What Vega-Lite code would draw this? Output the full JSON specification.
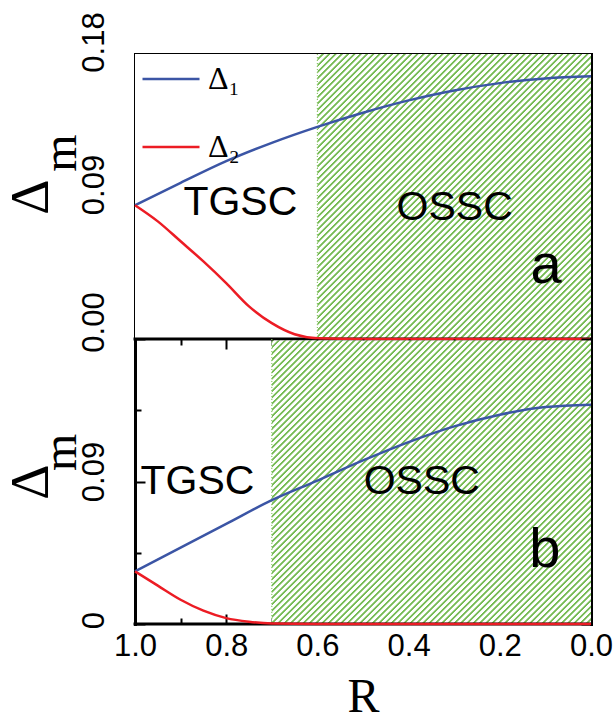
{
"$schema":"https://vega.github.io/schema/vega-lite/v6.json",
"background":"white",
"padding":{"left":3,"top":11,"right":0,"bottom":0},
"config":{
 "view":{"stroke":null},
 "axis":{"domainColor":"black","domainWidth":3,"domainCap":"square","tickColor":"black","tickWidth":2,"labelFont":"Liberation Sans","labelFontSize":31,"labelColor":"black","grid":false,"zindex":1,"titleColor":"black","titleFontWeight":"normal","labelFlush":false,"labelOverlap":false}
},
"datasets":{
 "a":[
  {"R":1,"series":"Δ₁","value":0.0845},{"R":0.9,"series":"Δ₁","value":0.0986},{"R":0.8,"series":"Δ₁","value":0.1123},{"R":0.7,"series":"Δ₁","value":0.1239},{"R":0.6,"series":"Δ₁","value":0.134},{"R":0.5,"series":"Δ₁","value":0.1429},{"R":0.4,"series":"Δ₁","value":0.1507},{"R":0.3,"series":"Δ₁","value":0.157},{"R":0.2,"series":"Δ₁","value":0.1616},{"R":0.1,"series":"Δ₁","value":0.1646},{"R":0,"series":"Δ₁","value":0.1659},
  {"R":1,"series":"Δ₂","value":0.0845},{"R":0.95,"series":"Δ₂","value":0.0743},{"R":0.9,"series":"Δ₂","value":0.0617},{"R":0.85,"series":"Δ₂","value":0.049},{"R":0.8,"series":"Δ₂","value":0.0353},{"R":0.75,"series":"Δ₂","value":0.0206},{"R":0.7,"series":"Δ₂","value":0.01},{"R":0.65,"series":"Δ₂","value":0.003},{"R":0.6,"series":"Δ₂","value":0.0005},{"R":0.5,"series":"Δ₂","value":0},{"R":0.4,"series":"Δ₂","value":0},{"R":0.3,"series":"Δ₂","value":0},{"R":0.2,"series":"Δ₂","value":0},{"R":0.1,"series":"Δ₂","value":0},{"R":0,"series":"Δ₂","value":0}
 ],
 "b":[
  {"R":1,"series":"Δ₁","value":0.0332},{"R":0.9,"series":"Δ₁","value":0.0482},{"R":0.8,"series":"Δ₁","value":0.0632},{"R":0.7,"series":"Δ₁","value":0.0782},{"R":0.6,"series":"Δ₁","value":0.0906},{"R":0.5,"series":"Δ₁","value":0.1033},{"R":0.4,"series":"Δ₁","value":0.1149},{"R":0.3,"series":"Δ₁","value":0.1248},{"R":0.2,"series":"Δ₁","value":0.1322},{"R":0.1,"series":"Δ₁","value":0.137},{"R":0,"series":"Δ₁","value":0.1385},
  {"R":1,"series":"Δ₂","value":0.0332},{"R":0.95,"series":"Δ₂","value":0.0242},{"R":0.9,"series":"Δ₂","value":0.0153},{"R":0.85,"series":"Δ₂","value":0.0084},{"R":0.8,"series":"Δ₂","value":0.0037},{"R":0.75,"series":"Δ₂","value":0.0014},{"R":0.7,"series":"Δ₂","value":0.0003},{"R":0.6,"series":"Δ₂","value":0},{"R":0.5,"series":"Δ₂","value":0},{"R":0.4,"series":"Δ₂","value":0},{"R":0.3,"series":"Δ₂","value":0},{"R":0.2,"series":"Δ₂","value":0},{"R":0.1,"series":"Δ₂","value":0},{"R":0,"series":"Δ₂","value":0}
 ]
},
"spacing":0,
"bounds":"flush",
"resolve":{"legend":{"color":"independent"}},
"vconcat":[
 {
  "width":456,"height":285,
  "data":{"values":[{}]},
  "resolve":{"axis":{"x":"independent","y":"independent"}},
  "layer":[
   {"mark":{"type":"rect","stroke":null,"fill":{"gradient":"linear","x1":0,"y1":0,"x2":1.0982,"y2":0.9805,"stops":[
{"offset":0,"color":"#7b5"},{"offset":0.0025,"color":"#7b5"},{"offset":0.004,"color":"#fff"},{"offset":0.0085,"color":"#fff"},
{"offset":0.01,"color":"#7b5"},{"offset":0.0125,"color":"#7b5"},{"offset":0.014,"color":"#fff"},{"offset":0.0185,"color":"#fff"},
{"offset":0.02,"color":"#7b5"},{"offset":0.0225,"color":"#7b5"},{"offset":0.024,"color":"#fff"},{"offset":0.0285,"color":"#fff"},
{"offset":0.03,"color":"#7b5"},{"offset":0.0325,"color":"#7b5"},{"offset":0.034,"color":"#fff"},{"offset":0.0385,"color":"#fff"},
{"offset":0.04,"color":"#7b5"},{"offset":0.0425,"color":"#7b5"},{"offset":0.044,"color":"#fff"},{"offset":0.0485,"color":"#fff"},
{"offset":0.05,"color":"#7b5"},{"offset":0.0525,"color":"#7b5"},{"offset":0.054,"color":"#fff"},{"offset":0.0585,"color":"#fff"},
{"offset":0.06,"color":"#7b5"},{"offset":0.0625,"color":"#7b5"},{"offset":0.064,"color":"#fff"},{"offset":0.0685,"color":"#fff"},
{"offset":0.07,"color":"#7b5"},{"offset":0.0725,"color":"#7b5"},{"offset":0.074,"color":"#fff"},{"offset":0.0785,"color":"#fff"},
{"offset":0.08,"color":"#7b5"},{"offset":0.0825,"color":"#7b5"},{"offset":0.084,"color":"#fff"},{"offset":0.0885,"color":"#fff"},
{"offset":0.09,"color":"#7b5"},{"offset":0.0925,"color":"#7b5"},{"offset":0.094,"color":"#fff"},{"offset":0.0985,"color":"#fff"},
{"offset":0.1,"color":"#7b5"},{"offset":0.1025,"color":"#7b5"},{"offset":0.104,"color":"#fff"},{"offset":0.1085,"color":"#fff"},
{"offset":0.11,"color":"#7b5"},{"offset":0.1125,"color":"#7b5"},{"offset":0.114,"color":"#fff"},{"offset":0.1185,"color":"#fff"},
{"offset":0.12,"color":"#7b5"},{"offset":0.1225,"color":"#7b5"},{"offset":0.124,"color":"#fff"},{"offset":0.1285,"color":"#fff"},
{"offset":0.13,"color":"#7b5"},{"offset":0.1325,"color":"#7b5"},{"offset":0.134,"color":"#fff"},{"offset":0.1385,"color":"#fff"},
{"offset":0.14,"color":"#7b5"},{"offset":0.1425,"color":"#7b5"},{"offset":0.144,"color":"#fff"},{"offset":0.1485,"color":"#fff"},
{"offset":0.15,"color":"#7b5"},{"offset":0.1525,"color":"#7b5"},{"offset":0.154,"color":"#fff"},{"offset":0.1585,"color":"#fff"},
{"offset":0.16,"color":"#7b5"},{"offset":0.1625,"color":"#7b5"},{"offset":0.164,"color":"#fff"},{"offset":0.1685,"color":"#fff"},
{"offset":0.17,"color":"#7b5"},{"offset":0.1725,"color":"#7b5"},{"offset":0.174,"color":"#fff"},{"offset":0.1785,"color":"#fff"},
{"offset":0.18,"color":"#7b5"},{"offset":0.1825,"color":"#7b5"},{"offset":0.184,"color":"#fff"},{"offset":0.1885,"color":"#fff"},
{"offset":0.19,"color":"#7b5"},{"offset":0.1925,"color":"#7b5"},{"offset":0.194,"color":"#fff"},{"offset":0.1985,"color":"#fff"},
{"offset":0.2,"color":"#7b5"},{"offset":0.2025,"color":"#7b5"},{"offset":0.204,"color":"#fff"},{"offset":0.2085,"color":"#fff"},
{"offset":0.21,"color":"#7b5"},{"offset":0.2125,"color":"#7b5"},{"offset":0.214,"color":"#fff"},{"offset":0.2185,"color":"#fff"},
{"offset":0.22,"color":"#7b5"},{"offset":0.2225,"color":"#7b5"},{"offset":0.224,"color":"#fff"},{"offset":0.2285,"color":"#fff"},
{"offset":0.23,"color":"#7b5"},{"offset":0.2325,"color":"#7b5"},{"offset":0.234,"color":"#fff"},{"offset":0.2385,"color":"#fff"},
{"offset":0.24,"color":"#7b5"},{"offset":0.2425,"color":"#7b5"},{"offset":0.244,"color":"#fff"},{"offset":0.2485,"color":"#fff"},
{"offset":0.25,"color":"#7b5"},{"offset":0.2525,"color":"#7b5"},{"offset":0.254,"color":"#fff"},{"offset":0.2585,"color":"#fff"},
{"offset":0.26,"color":"#7b5"},{"offset":0.2625,"color":"#7b5"},{"offset":0.264,"color":"#fff"},{"offset":0.2685,"color":"#fff"},
{"offset":0.27,"color":"#7b5"},{"offset":0.2725,"color":"#7b5"},{"offset":0.274,"color":"#fff"},{"offset":0.2785,"color":"#fff"},
{"offset":0.28,"color":"#7b5"},{"offset":0.2825,"color":"#7b5"},{"offset":0.284,"color":"#fff"},{"offset":0.2885,"color":"#fff"},
{"offset":0.29,"color":"#7b5"},{"offset":0.2925,"color":"#7b5"},{"offset":0.294,"color":"#fff"},{"offset":0.2985,"color":"#fff"},
{"offset":0.3,"color":"#7b5"},{"offset":0.3025,"color":"#7b5"},{"offset":0.304,"color":"#fff"},{"offset":0.3085,"color":"#fff"},
{"offset":0.31,"color":"#7b5"},{"offset":0.3125,"color":"#7b5"},{"offset":0.314,"color":"#fff"},{"offset":0.3185,"color":"#fff"},
{"offset":0.32,"color":"#7b5"},{"offset":0.3225,"color":"#7b5"},{"offset":0.324,"color":"#fff"},{"offset":0.3285,"color":"#fff"},
{"offset":0.33,"color":"#7b5"},{"offset":0.3325,"color":"#7b5"},{"offset":0.334,"color":"#fff"},{"offset":0.3385,"color":"#fff"},
{"offset":0.34,"color":"#7b5"},{"offset":0.3425,"color":"#7b5"},{"offset":0.344,"color":"#fff"},{"offset":0.3485,"color":"#fff"},
{"offset":0.35,"color":"#7b5"},{"offset":0.3525,"color":"#7b5"},{"offset":0.354,"color":"#fff"},{"offset":0.3585,"color":"#fff"},
{"offset":0.36,"color":"#7b5"},{"offset":0.3625,"color":"#7b5"},{"offset":0.364,"color":"#fff"},{"offset":0.3685,"color":"#fff"},
{"offset":0.37,"color":"#7b5"},{"offset":0.3725,"color":"#7b5"},{"offset":0.374,"color":"#fff"},{"offset":0.3785,"color":"#fff"},
{"offset":0.38,"color":"#7b5"},{"offset":0.3825,"color":"#7b5"},{"offset":0.384,"color":"#fff"},{"offset":0.3885,"color":"#fff"},
{"offset":0.39,"color":"#7b5"},{"offset":0.3925,"color":"#7b5"},{"offset":0.394,"color":"#fff"},{"offset":0.3985,"color":"#fff"},
{"offset":0.4,"color":"#7b5"},{"offset":0.4025,"color":"#7b5"},{"offset":0.404,"color":"#fff"},{"offset":0.4085,"color":"#fff"},
{"offset":0.41,"color":"#7b5"},{"offset":0.4125,"color":"#7b5"},{"offset":0.414,"color":"#fff"},{"offset":0.4185,"color":"#fff"},
{"offset":0.42,"color":"#7b5"},{"offset":0.4225,"color":"#7b5"},{"offset":0.424,"color":"#fff"},{"offset":0.4285,"color":"#fff"},
{"offset":0.43,"color":"#7b5"},{"offset":0.4325,"color":"#7b5"},{"offset":0.434,"color":"#fff"},{"offset":0.4385,"color":"#fff"},
{"offset":0.44,"color":"#7b5"},{"offset":0.4425,"color":"#7b5"},{"offset":0.444,"color":"#fff"},{"offset":0.4485,"color":"#fff"},
{"offset":0.45,"color":"#7b5"},{"offset":0.4525,"color":"#7b5"},{"offset":0.454,"color":"#fff"},{"offset":0.4585,"color":"#fff"},
{"offset":0.46,"color":"#7b5"},{"offset":0.4625,"color":"#7b5"},{"offset":0.464,"color":"#fff"},{"offset":0.4685,"color":"#fff"},
{"offset":0.47,"color":"#7b5"},{"offset":0.4725,"color":"#7b5"},{"offset":0.474,"color":"#fff"},{"offset":0.4785,"color":"#fff"},
{"offset":0.48,"color":"#7b5"},{"offset":0.4825,"color":"#7b5"},{"offset":0.484,"color":"#fff"},{"offset":0.4885,"color":"#fff"},
{"offset":0.49,"color":"#7b5"},{"offset":0.4925,"color":"#7b5"},{"offset":0.494,"color":"#fff"},{"offset":0.4985,"color":"#fff"},
{"offset":0.5,"color":"#7b5"},{"offset":0.5025,"color":"#7b5"},{"offset":0.504,"color":"#fff"},{"offset":0.5085,"color":"#fff"},
{"offset":0.51,"color":"#7b5"},{"offset":0.5125,"color":"#7b5"},{"offset":0.514,"color":"#fff"},{"offset":0.5185,"color":"#fff"},
{"offset":0.52,"color":"#7b5"},{"offset":0.5225,"color":"#7b5"},{"offset":0.524,"color":"#fff"},{"offset":0.5285,"color":"#fff"},
{"offset":0.53,"color":"#7b5"},{"offset":0.5325,"color":"#7b5"},{"offset":0.534,"color":"#fff"},{"offset":0.5385,"color":"#fff"},
{"offset":0.54,"color":"#7b5"},{"offset":0.5425,"color":"#7b5"},{"offset":0.544,"color":"#fff"},{"offset":0.5485,"color":"#fff"},
{"offset":0.55,"color":"#7b5"},{"offset":0.5525,"color":"#7b5"},{"offset":0.554,"color":"#fff"},{"offset":0.5585,"color":"#fff"},
{"offset":0.56,"color":"#7b5"},{"offset":0.5625,"color":"#7b5"},{"offset":0.564,"color":"#fff"},{"offset":0.5685,"color":"#fff"},
{"offset":0.57,"color":"#7b5"},{"offset":0.5725,"color":"#7b5"},{"offset":0.574,"color":"#fff"},{"offset":0.5785,"color":"#fff"},
{"offset":0.58,"color":"#7b5"},{"offset":0.5825,"color":"#7b5"},{"offset":0.584,"color":"#fff"},{"offset":0.5885,"color":"#fff"},
{"offset":0.59,"color":"#7b5"},{"offset":0.5925,"color":"#7b5"},{"offset":0.594,"color":"#fff"},{"offset":0.5985,"color":"#fff"},
{"offset":0.6,"color":"#7b5"},{"offset":0.6025,"color":"#7b5"},{"offset":0.604,"color":"#fff"},{"offset":0.6085,"color":"#fff"},
{"offset":0.61,"color":"#7b5"},{"offset":0.6125,"color":"#7b5"},{"offset":0.614,"color":"#fff"},{"offset":0.6185,"color":"#fff"},
{"offset":0.62,"color":"#7b5"},{"offset":0.6225,"color":"#7b5"},{"offset":0.624,"color":"#fff"},{"offset":0.6285,"color":"#fff"},
{"offset":0.63,"color":"#7b5"},{"offset":0.6325,"color":"#7b5"},{"offset":0.634,"color":"#fff"},{"offset":0.6385,"color":"#fff"},
{"offset":0.64,"color":"#7b5"},{"offset":0.6425,"color":"#7b5"},{"offset":0.644,"color":"#fff"},{"offset":0.6485,"color":"#fff"},
{"offset":0.65,"color":"#7b5"},{"offset":0.6525,"color":"#7b5"},{"offset":0.654,"color":"#fff"},{"offset":0.6585,"color":"#fff"},
{"offset":0.66,"color":"#7b5"},{"offset":0.6625,"color":"#7b5"},{"offset":0.664,"color":"#fff"},{"offset":0.6685,"color":"#fff"},
{"offset":0.67,"color":"#7b5"},{"offset":0.6725,"color":"#7b5"},{"offset":0.674,"color":"#fff"},{"offset":0.6785,"color":"#fff"},
{"offset":0.68,"color":"#7b5"},{"offset":0.6825,"color":"#7b5"},{"offset":0.684,"color":"#fff"},{"offset":0.6885,"color":"#fff"},
{"offset":0.69,"color":"#7b5"},{"offset":0.6925,"color":"#7b5"},{"offset":0.694,"color":"#fff"},{"offset":0.6985,"color":"#fff"},
{"offset":0.7,"color":"#7b5"},{"offset":0.7025,"color":"#7b5"},{"offset":0.704,"color":"#fff"},{"offset":0.7085,"color":"#fff"},
{"offset":0.71,"color":"#7b5"},{"offset":0.7125,"color":"#7b5"},{"offset":0.714,"color":"#fff"},{"offset":0.7185,"color":"#fff"},
{"offset":0.72,"color":"#7b5"},{"offset":0.7225,"color":"#7b5"},{"offset":0.724,"color":"#fff"},{"offset":0.7285,"color":"#fff"},
{"offset":0.73,"color":"#7b5"},{"offset":0.7325,"color":"#7b5"},{"offset":0.734,"color":"#fff"},{"offset":0.7385,"color":"#fff"},
{"offset":0.74,"color":"#7b5"},{"offset":0.7425,"color":"#7b5"},{"offset":0.744,"color":"#fff"},{"offset":0.7485,"color":"#fff"},
{"offset":0.75,"color":"#7b5"},{"offset":0.7525,"color":"#7b5"},{"offset":0.754,"color":"#fff"},{"offset":0.7585,"color":"#fff"},
{"offset":0.76,"color":"#7b5"},{"offset":0.7625,"color":"#7b5"},{"offset":0.764,"color":"#fff"},{"offset":0.7685,"color":"#fff"},
{"offset":0.77,"color":"#7b5"},{"offset":0.7725,"color":"#7b5"},{"offset":0.774,"color":"#fff"},{"offset":0.7785,"color":"#fff"},
{"offset":0.78,"color":"#7b5"},{"offset":0.7825,"color":"#7b5"},{"offset":0.784,"color":"#fff"},{"offset":0.7885,"color":"#fff"},
{"offset":0.79,"color":"#7b5"},{"offset":0.7925,"color":"#7b5"},{"offset":0.794,"color":"#fff"},{"offset":0.7985,"color":"#fff"},
{"offset":0.8,"color":"#7b5"},{"offset":0.8025,"color":"#7b5"},{"offset":0.804,"color":"#fff"},{"offset":0.8085,"color":"#fff"},
{"offset":0.81,"color":"#7b5"},{"offset":0.8125,"color":"#7b5"},{"offset":0.814,"color":"#fff"},{"offset":0.8185,"color":"#fff"},
{"offset":0.82,"color":"#7b5"},{"offset":0.8225,"color":"#7b5"},{"offset":0.824,"color":"#fff"},{"offset":0.8285,"color":"#fff"},
{"offset":0.83,"color":"#7b5"},{"offset":0.8325,"color":"#7b5"},{"offset":0.834,"color":"#fff"},{"offset":0.8385,"color":"#fff"},
{"offset":0.84,"color":"#7b5"},{"offset":0.8425,"color":"#7b5"},{"offset":0.844,"color":"#fff"},{"offset":0.8485,"color":"#fff"},
{"offset":0.85,"color":"#7b5"},{"offset":0.8525,"color":"#7b5"},{"offset":0.854,"color":"#fff"},{"offset":0.8585,"color":"#fff"},
{"offset":0.86,"color":"#7b5"},{"offset":0.8625,"color":"#7b5"},{"offset":0.864,"color":"#fff"},{"offset":0.8685,"color":"#fff"},
{"offset":0.87,"color":"#7b5"},{"offset":0.8725,"color":"#7b5"},{"offset":0.874,"color":"#fff"},{"offset":0.8785,"color":"#fff"},
{"offset":0.88,"color":"#7b5"},{"offset":0.8825,"color":"#7b5"},{"offset":0.884,"color":"#fff"},{"offset":0.8885,"color":"#fff"},
{"offset":0.89,"color":"#7b5"},{"offset":0.8925,"color":"#7b5"},{"offset":0.894,"color":"#fff"},{"offset":0.8985,"color":"#fff"},
{"offset":0.9,"color":"#7b5"},{"offset":0.9025,"color":"#7b5"},{"offset":0.904,"color":"#fff"},{"offset":0.9085,"color":"#fff"},
{"offset":0.91,"color":"#7b5"},{"offset":0.9125,"color":"#7b5"},{"offset":0.914,"color":"#fff"},{"offset":0.9185,"color":"#fff"},
{"offset":0.92,"color":"#7b5"},{"offset":0.9225,"color":"#7b5"},{"offset":0.924,"color":"#fff"},{"offset":0.9285,"color":"#fff"},
{"offset":0.93,"color":"#7b5"},{"offset":0.9325,"color":"#7b5"},{"offset":0.934,"color":"#fff"},{"offset":0.9385,"color":"#fff"},
{"offset":0.94,"color":"#7b5"},{"offset":0.9425,"color":"#7b5"},{"offset":0.944,"color":"#fff"},{"offset":0.9485,"color":"#fff"},
{"offset":0.95,"color":"#7b5"},{"offset":0.9525,"color":"#7b5"},{"offset":0.954,"color":"#fff"},{"offset":0.96,"color":"#fff"}
]}},
    "encoding":{
     "x":{"datum":0.7,"type":"quantitative","scale":{"domain":[0,1],"reverse":true,"nice":false,"zero":false},
      "axis":{"orient":"bottom","domain":false,"values":[0,0.1,0.2,0.3,0.4,0.5,0.6,0.7,0.8,0.9,1],"labels":false,"title":null,"tickSize":{"condition":{"test":"round(datum.value*10)%2==1","value":-6},"value":-10}}},
     "x2":{"datum":0},
     "y":{"datum":0,"type":"quantitative","scale":{"domain":[0,0.18],"nice":false,"zero":false},
      "axis":{"orient":"left","values":[0,0.045,0.09,0.135,0.18],"labelExpr":"datum.value==0.045||datum.value==0.135?'':format(datum.value,'.2f')","labelAngle":-90,"labelAlign":"center","labelBaseline":"alphabetic","labelPadding":42,"labelOffset":{"condition":{"test":"datum.value==0","value":-17},"value":-12},"tickSize":{"condition":{"test":"datum.value==0.045||datum.value==0.135","value":-6},"value":-10},"title":"Δ","titleFont":"Liberation Serif","titleFontSize":55,"titleBaseline":"alphabetic","titlePadding":27}},
     "y2":{"datum":0.18}}},
   {"mark":{"type":"rect","fill":"white"},
    "encoding":{
     "x":{"datum":1,"type":"quantitative","scale":{"domain":[0,1],"reverse":true,"nice":false,"zero":false},"axis":null},
     "x2":{"datum":0.6},
     "y":{"datum":0,"type":"quantitative","scale":{"domain":[0,0.18],"nice":false,"zero":false},"axis":null},
     "y2":{"datum":0.18}}},
   {"mark":{"type":"rule","color":"#8dc76b","strokeWidth":1.2,"strokeDash":[1,2]},
    "encoding":{"x":{"datum":0.6,"type":"quantitative","scale":{"domain":[0,1],"reverse":true,"nice":false,"zero":false},"axis":null}}},
   {"mark":{"type":"rule","color":"black","strokeWidth":3,"strokeCap":"square"},
    "encoding":{"y":{"datum":0,"type":"quantitative","scale":{"domain":[0,0.18],"nice":false,"zero":false},"axis":null}}},
   {"data":{"name":"a"},
    "mark":{"type":"line","strokeWidth":2.5,"interpolate":"monotone"},
    "encoding":{
     "x":{"field":"R","type":"quantitative","scale":{"domain":[0,1],"reverse":true,"nice":false,"zero":false},
      "axis":{"orient":"top","values":[0,0.1,0.2,0.3,0.4,0.5,0.6,0.7,0.8,0.9,1],"labels":false,"title":null,"tickSize":{"condition":{"test":"round(datum.value*10)%2==1","value":-6},"value":-10}}},
     "y":{"field":"value","type":"quantitative","scale":{"domain":[0,0.18],"nice":false,"zero":false},
      "axis":{"orient":"right","values":[0,0.045,0.09,0.135,0.18],"labels":false,"title":null,"tickSize":{"condition":{"test":"datum.value==0.045||datum.value==0.135","value":-6},"value":-10}}},
     "color":{"field":"series","type":"nominal","scale":{"domain":["Δ₁","Δ₂"],"range":["#3b55a5","#ec1c24"]},
      "legend":{"orient":"none","legendX":6,"legendY":-5,"title":null,"direction":"vertical","symbolType":"stroke","symbolSize":3249,"symbolStrokeWidth":2.5,"labelFont":"Liberation Serif","labelFontSize":32,"labelColor":"black","rowPadding":22,"padding":0,"labelOffset":7,"labelLimit":0}}}},
   {"mark":{"type":"text","text":"TGSC","font":"Liberation Sans","fontSize":41,"align":"center","baseline":"alphabetic","color":"black"},
    "encoding":{"x":{"datum":0.769,"type":"quantitative","scale":{"domain":[0,1],"reverse":true,"nice":false,"zero":false},"axis":null},"y":{"datum":0.0783,"type":"quantitative","scale":{"domain":[0,0.18],"nice":false,"zero":false},"axis":null}}},
   {"mark":{"type":"text","text":"OSSC","font":"Liberation Sans","fontSize":41,"align":"center","baseline":"alphabetic","color":"black"},
    "encoding":{"x":{"datum":0.299,"type":"quantitative","scale":{"domain":[0,1],"reverse":true,"nice":false,"zero":false},"axis":null},"y":{"datum":0.0752,"type":"quantitative","scale":{"domain":[0,0.18],"nice":false,"zero":false},"axis":null}}},
   {"mark":{"type":"text","text":"a","font":"Liberation Sans","fontSize":56,"align":"center","baseline":"alphabetic","color":"black"},
    "encoding":{"x":{"datum":0.0987,"type":"quantitative","scale":{"domain":[0,1],"reverse":true,"nice":false,"zero":false},"axis":null},"y":{"datum":0.0354,"type":"quantitative","scale":{"domain":[0,0.18],"nice":false,"zero":false},"axis":null}}},
   {"mark":{"type":"text","text":"m","font":"Liberation Serif","fontSize":48,"angle":270,"align":"center","baseline":"alphabetic","color":"black"},
    "encoding":{"x":{"datum":1.13,"type":"quantitative","scale":{"domain":[0,1],"reverse":true,"nice":false,"zero":false},"axis":null},"y":{"datum":0.1174,"type":"quantitative","scale":{"domain":[0,0.18],"nice":false,"zero":false},"axis":null}}}
  ]
 },
 {
  "width":456,"height":285,
  "data":{"values":[{}]},
  "resolve":{"axis":{"x":"independent","y":"independent"}},
  "layer":[
   {"mark":{"type":"rect","stroke":null,"fill":{"gradient":"linear","x1":0,"y1":0,"x2":1.0982,"y2":0.9805,"stops":[
{"offset":0,"color":"#7b5"},{"offset":0.0025,"color":"#7b5"},{"offset":0.004,"color":"#fff"},{"offset":0.0085,"color":"#fff"},
{"offset":0.01,"color":"#7b5"},{"offset":0.0125,"color":"#7b5"},{"offset":0.014,"color":"#fff"},{"offset":0.0185,"color":"#fff"},
{"offset":0.02,"color":"#7b5"},{"offset":0.0225,"color":"#7b5"},{"offset":0.024,"color":"#fff"},{"offset":0.0285,"color":"#fff"},
{"offset":0.03,"color":"#7b5"},{"offset":0.0325,"color":"#7b5"},{"offset":0.034,"color":"#fff"},{"offset":0.0385,"color":"#fff"},
{"offset":0.04,"color":"#7b5"},{"offset":0.0425,"color":"#7b5"},{"offset":0.044,"color":"#fff"},{"offset":0.0485,"color":"#fff"},
{"offset":0.05,"color":"#7b5"},{"offset":0.0525,"color":"#7b5"},{"offset":0.054,"color":"#fff"},{"offset":0.0585,"color":"#fff"},
{"offset":0.06,"color":"#7b5"},{"offset":0.0625,"color":"#7b5"},{"offset":0.064,"color":"#fff"},{"offset":0.0685,"color":"#fff"},
{"offset":0.07,"color":"#7b5"},{"offset":0.0725,"color":"#7b5"},{"offset":0.074,"color":"#fff"},{"offset":0.0785,"color":"#fff"},
{"offset":0.08,"color":"#7b5"},{"offset":0.0825,"color":"#7b5"},{"offset":0.084,"color":"#fff"},{"offset":0.0885,"color":"#fff"},
{"offset":0.09,"color":"#7b5"},{"offset":0.0925,"color":"#7b5"},{"offset":0.094,"color":"#fff"},{"offset":0.0985,"color":"#fff"},
{"offset":0.1,"color":"#7b5"},{"offset":0.1025,"color":"#7b5"},{"offset":0.104,"color":"#fff"},{"offset":0.1085,"color":"#fff"},
{"offset":0.11,"color":"#7b5"},{"offset":0.1125,"color":"#7b5"},{"offset":0.114,"color":"#fff"},{"offset":0.1185,"color":"#fff"},
{"offset":0.12,"color":"#7b5"},{"offset":0.1225,"color":"#7b5"},{"offset":0.124,"color":"#fff"},{"offset":0.1285,"color":"#fff"},
{"offset":0.13,"color":"#7b5"},{"offset":0.1325,"color":"#7b5"},{"offset":0.134,"color":"#fff"},{"offset":0.1385,"color":"#fff"},
{"offset":0.14,"color":"#7b5"},{"offset":0.1425,"color":"#7b5"},{"offset":0.144,"color":"#fff"},{"offset":0.1485,"color":"#fff"},
{"offset":0.15,"color":"#7b5"},{"offset":0.1525,"color":"#7b5"},{"offset":0.154,"color":"#fff"},{"offset":0.1585,"color":"#fff"},
{"offset":0.16,"color":"#7b5"},{"offset":0.1625,"color":"#7b5"},{"offset":0.164,"color":"#fff"},{"offset":0.1685,"color":"#fff"},
{"offset":0.17,"color":"#7b5"},{"offset":0.1725,"color":"#7b5"},{"offset":0.174,"color":"#fff"},{"offset":0.1785,"color":"#fff"},
{"offset":0.18,"color":"#7b5"},{"offset":0.1825,"color":"#7b5"},{"offset":0.184,"color":"#fff"},{"offset":0.1885,"color":"#fff"},
{"offset":0.19,"color":"#7b5"},{"offset":0.1925,"color":"#7b5"},{"offset":0.194,"color":"#fff"},{"offset":0.1985,"color":"#fff"},
{"offset":0.2,"color":"#7b5"},{"offset":0.2025,"color":"#7b5"},{"offset":0.204,"color":"#fff"},{"offset":0.2085,"color":"#fff"},
{"offset":0.21,"color":"#7b5"},{"offset":0.2125,"color":"#7b5"},{"offset":0.214,"color":"#fff"},{"offset":0.2185,"color":"#fff"},
{"offset":0.22,"color":"#7b5"},{"offset":0.2225,"color":"#7b5"},{"offset":0.224,"color":"#fff"},{"offset":0.2285,"color":"#fff"},
{"offset":0.23,"color":"#7b5"},{"offset":0.2325,"color":"#7b5"},{"offset":0.234,"color":"#fff"},{"offset":0.2385,"color":"#fff"},
{"offset":0.24,"color":"#7b5"},{"offset":0.2425,"color":"#7b5"},{"offset":0.244,"color":"#fff"},{"offset":0.2485,"color":"#fff"},
{"offset":0.25,"color":"#7b5"},{"offset":0.2525,"color":"#7b5"},{"offset":0.254,"color":"#fff"},{"offset":0.2585,"color":"#fff"},
{"offset":0.26,"color":"#7b5"},{"offset":0.2625,"color":"#7b5"},{"offset":0.264,"color":"#fff"},{"offset":0.2685,"color":"#fff"},
{"offset":0.27,"color":"#7b5"},{"offset":0.2725,"color":"#7b5"},{"offset":0.274,"color":"#fff"},{"offset":0.2785,"color":"#fff"},
{"offset":0.28,"color":"#7b5"},{"offset":0.2825,"color":"#7b5"},{"offset":0.284,"color":"#fff"},{"offset":0.2885,"color":"#fff"},
{"offset":0.29,"color":"#7b5"},{"offset":0.2925,"color":"#7b5"},{"offset":0.294,"color":"#fff"},{"offset":0.2985,"color":"#fff"},
{"offset":0.3,"color":"#7b5"},{"offset":0.3025,"color":"#7b5"},{"offset":0.304,"color":"#fff"},{"offset":0.3085,"color":"#fff"},
{"offset":0.31,"color":"#7b5"},{"offset":0.3125,"color":"#7b5"},{"offset":0.314,"color":"#fff"},{"offset":0.3185,"color":"#fff"},
{"offset":0.32,"color":"#7b5"},{"offset":0.3225,"color":"#7b5"},{"offset":0.324,"color":"#fff"},{"offset":0.3285,"color":"#fff"},
{"offset":0.33,"color":"#7b5"},{"offset":0.3325,"color":"#7b5"},{"offset":0.334,"color":"#fff"},{"offset":0.3385,"color":"#fff"},
{"offset":0.34,"color":"#7b5"},{"offset":0.3425,"color":"#7b5"},{"offset":0.344,"color":"#fff"},{"offset":0.3485,"color":"#fff"},
{"offset":0.35,"color":"#7b5"},{"offset":0.3525,"color":"#7b5"},{"offset":0.354,"color":"#fff"},{"offset":0.3585,"color":"#fff"},
{"offset":0.36,"color":"#7b5"},{"offset":0.3625,"color":"#7b5"},{"offset":0.364,"color":"#fff"},{"offset":0.3685,"color":"#fff"},
{"offset":0.37,"color":"#7b5"},{"offset":0.3725,"color":"#7b5"},{"offset":0.374,"color":"#fff"},{"offset":0.3785,"color":"#fff"},
{"offset":0.38,"color":"#7b5"},{"offset":0.3825,"color":"#7b5"},{"offset":0.384,"color":"#fff"},{"offset":0.3885,"color":"#fff"},
{"offset":0.39,"color":"#7b5"},{"offset":0.3925,"color":"#7b5"},{"offset":0.394,"color":"#fff"},{"offset":0.3985,"color":"#fff"},
{"offset":0.4,"color":"#7b5"},{"offset":0.4025,"color":"#7b5"},{"offset":0.404,"color":"#fff"},{"offset":0.4085,"color":"#fff"},
{"offset":0.41,"color":"#7b5"},{"offset":0.4125,"color":"#7b5"},{"offset":0.414,"color":"#fff"},{"offset":0.4185,"color":"#fff"},
{"offset":0.42,"color":"#7b5"},{"offset":0.4225,"color":"#7b5"},{"offset":0.424,"color":"#fff"},{"offset":0.4285,"color":"#fff"},
{"offset":0.43,"color":"#7b5"},{"offset":0.4325,"color":"#7b5"},{"offset":0.434,"color":"#fff"},{"offset":0.4385,"color":"#fff"},
{"offset":0.44,"color":"#7b5"},{"offset":0.4425,"color":"#7b5"},{"offset":0.444,"color":"#fff"},{"offset":0.4485,"color":"#fff"},
{"offset":0.45,"color":"#7b5"},{"offset":0.4525,"color":"#7b5"},{"offset":0.454,"color":"#fff"},{"offset":0.4585,"color":"#fff"},
{"offset":0.46,"color":"#7b5"},{"offset":0.4625,"color":"#7b5"},{"offset":0.464,"color":"#fff"},{"offset":0.4685,"color":"#fff"},
{"offset":0.47,"color":"#7b5"},{"offset":0.4725,"color":"#7b5"},{"offset":0.474,"color":"#fff"},{"offset":0.4785,"color":"#fff"},
{"offset":0.48,"color":"#7b5"},{"offset":0.4825,"color":"#7b5"},{"offset":0.484,"color":"#fff"},{"offset":0.4885,"color":"#fff"},
{"offset":0.49,"color":"#7b5"},{"offset":0.4925,"color":"#7b5"},{"offset":0.494,"color":"#fff"},{"offset":0.4985,"color":"#fff"},
{"offset":0.5,"color":"#7b5"},{"offset":0.5025,"color":"#7b5"},{"offset":0.504,"color":"#fff"},{"offset":0.5085,"color":"#fff"},
{"offset":0.51,"color":"#7b5"},{"offset":0.5125,"color":"#7b5"},{"offset":0.514,"color":"#fff"},{"offset":0.5185,"color":"#fff"},
{"offset":0.52,"color":"#7b5"},{"offset":0.5225,"color":"#7b5"},{"offset":0.524,"color":"#fff"},{"offset":0.5285,"color":"#fff"},
{"offset":0.53,"color":"#7b5"},{"offset":0.5325,"color":"#7b5"},{"offset":0.534,"color":"#fff"},{"offset":0.5385,"color":"#fff"},
{"offset":0.54,"color":"#7b5"},{"offset":0.5425,"color":"#7b5"},{"offset":0.544,"color":"#fff"},{"offset":0.5485,"color":"#fff"},
{"offset":0.55,"color":"#7b5"},{"offset":0.5525,"color":"#7b5"},{"offset":0.554,"color":"#fff"},{"offset":0.5585,"color":"#fff"},
{"offset":0.56,"color":"#7b5"},{"offset":0.5625,"color":"#7b5"},{"offset":0.564,"color":"#fff"},{"offset":0.5685,"color":"#fff"},
{"offset":0.57,"color":"#7b5"},{"offset":0.5725,"color":"#7b5"},{"offset":0.574,"color":"#fff"},{"offset":0.5785,"color":"#fff"},
{"offset":0.58,"color":"#7b5"},{"offset":0.5825,"color":"#7b5"},{"offset":0.584,"color":"#fff"},{"offset":0.5885,"color":"#fff"},
{"offset":0.59,"color":"#7b5"},{"offset":0.5925,"color":"#7b5"},{"offset":0.594,"color":"#fff"},{"offset":0.5985,"color":"#fff"},
{"offset":0.6,"color":"#7b5"},{"offset":0.6025,"color":"#7b5"},{"offset":0.604,"color":"#fff"},{"offset":0.6085,"color":"#fff"},
{"offset":0.61,"color":"#7b5"},{"offset":0.6125,"color":"#7b5"},{"offset":0.614,"color":"#fff"},{"offset":0.6185,"color":"#fff"},
{"offset":0.62,"color":"#7b5"},{"offset":0.6225,"color":"#7b5"},{"offset":0.624,"color":"#fff"},{"offset":0.6285,"color":"#fff"},
{"offset":0.63,"color":"#7b5"},{"offset":0.6325,"color":"#7b5"},{"offset":0.634,"color":"#fff"},{"offset":0.6385,"color":"#fff"},
{"offset":0.64,"color":"#7b5"},{"offset":0.6425,"color":"#7b5"},{"offset":0.644,"color":"#fff"},{"offset":0.6485,"color":"#fff"},
{"offset":0.65,"color":"#7b5"},{"offset":0.6525,"color":"#7b5"},{"offset":0.654,"color":"#fff"},{"offset":0.6585,"color":"#fff"},
{"offset":0.66,"color":"#7b5"},{"offset":0.6625,"color":"#7b5"},{"offset":0.664,"color":"#fff"},{"offset":0.6685,"color":"#fff"},
{"offset":0.67,"color":"#7b5"},{"offset":0.6725,"color":"#7b5"},{"offset":0.674,"color":"#fff"},{"offset":0.6785,"color":"#fff"},
{"offset":0.68,"color":"#7b5"},{"offset":0.6825,"color":"#7b5"},{"offset":0.684,"color":"#fff"},{"offset":0.6885,"color":"#fff"},
{"offset":0.69,"color":"#7b5"},{"offset":0.6925,"color":"#7b5"},{"offset":0.694,"color":"#fff"},{"offset":0.6985,"color":"#fff"},
{"offset":0.7,"color":"#7b5"},{"offset":0.7025,"color":"#7b5"},{"offset":0.704,"color":"#fff"},{"offset":0.7085,"color":"#fff"},
{"offset":0.71,"color":"#7b5"},{"offset":0.7125,"color":"#7b5"},{"offset":0.714,"color":"#fff"},{"offset":0.7185,"color":"#fff"},
{"offset":0.72,"color":"#7b5"},{"offset":0.7225,"color":"#7b5"},{"offset":0.724,"color":"#fff"},{"offset":0.7285,"color":"#fff"},
{"offset":0.73,"color":"#7b5"},{"offset":0.7325,"color":"#7b5"},{"offset":0.734,"color":"#fff"},{"offset":0.7385,"color":"#fff"},
{"offset":0.74,"color":"#7b5"},{"offset":0.7425,"color":"#7b5"},{"offset":0.744,"color":"#fff"},{"offset":0.7485,"color":"#fff"},
{"offset":0.75,"color":"#7b5"},{"offset":0.7525,"color":"#7b5"},{"offset":0.754,"color":"#fff"},{"offset":0.7585,"color":"#fff"},
{"offset":0.76,"color":"#7b5"},{"offset":0.7625,"color":"#7b5"},{"offset":0.764,"color":"#fff"},{"offset":0.7685,"color":"#fff"},
{"offset":0.77,"color":"#7b5"},{"offset":0.7725,"color":"#7b5"},{"offset":0.774,"color":"#fff"},{"offset":0.7785,"color":"#fff"},
{"offset":0.78,"color":"#7b5"},{"offset":0.7825,"color":"#7b5"},{"offset":0.784,"color":"#fff"},{"offset":0.7885,"color":"#fff"},
{"offset":0.79,"color":"#7b5"},{"offset":0.7925,"color":"#7b5"},{"offset":0.794,"color":"#fff"},{"offset":0.7985,"color":"#fff"},
{"offset":0.8,"color":"#7b5"},{"offset":0.8025,"color":"#7b5"},{"offset":0.804,"color":"#fff"},{"offset":0.8085,"color":"#fff"},
{"offset":0.81,"color":"#7b5"},{"offset":0.8125,"color":"#7b5"},{"offset":0.814,"color":"#fff"},{"offset":0.8185,"color":"#fff"},
{"offset":0.82,"color":"#7b5"},{"offset":0.8225,"color":"#7b5"},{"offset":0.824,"color":"#fff"},{"offset":0.8285,"color":"#fff"},
{"offset":0.83,"color":"#7b5"},{"offset":0.8325,"color":"#7b5"},{"offset":0.834,"color":"#fff"},{"offset":0.8385,"color":"#fff"},
{"offset":0.84,"color":"#7b5"},{"offset":0.8425,"color":"#7b5"},{"offset":0.844,"color":"#fff"},{"offset":0.8485,"color":"#fff"},
{"offset":0.85,"color":"#7b5"},{"offset":0.8525,"color":"#7b5"},{"offset":0.854,"color":"#fff"},{"offset":0.8585,"color":"#fff"},
{"offset":0.86,"color":"#7b5"},{"offset":0.8625,"color":"#7b5"},{"offset":0.864,"color":"#fff"},{"offset":0.8685,"color":"#fff"},
{"offset":0.87,"color":"#7b5"},{"offset":0.8725,"color":"#7b5"},{"offset":0.874,"color":"#fff"},{"offset":0.8785,"color":"#fff"},
{"offset":0.88,"color":"#7b5"},{"offset":0.8825,"color":"#7b5"},{"offset":0.884,"color":"#fff"},{"offset":0.8885,"color":"#fff"},
{"offset":0.89,"color":"#7b5"},{"offset":0.8925,"color":"#7b5"},{"offset":0.894,"color":"#fff"},{"offset":0.8985,"color":"#fff"},
{"offset":0.9,"color":"#7b5"},{"offset":0.9025,"color":"#7b5"},{"offset":0.904,"color":"#fff"},{"offset":0.9085,"color":"#fff"},
{"offset":0.91,"color":"#7b5"},{"offset":0.9125,"color":"#7b5"},{"offset":0.914,"color":"#fff"},{"offset":0.9185,"color":"#fff"},
{"offset":0.92,"color":"#7b5"},{"offset":0.9225,"color":"#7b5"},{"offset":0.924,"color":"#fff"},{"offset":0.9285,"color":"#fff"},
{"offset":0.93,"color":"#7b5"},{"offset":0.9325,"color":"#7b5"},{"offset":0.934,"color":"#fff"},{"offset":0.9385,"color":"#fff"},
{"offset":0.94,"color":"#7b5"},{"offset":0.9425,"color":"#7b5"},{"offset":0.944,"color":"#fff"},{"offset":0.9485,"color":"#fff"},
{"offset":0.95,"color":"#7b5"},{"offset":0.9525,"color":"#7b5"},{"offset":0.954,"color":"#fff"},{"offset":0.96,"color":"#fff"}
]}},
    "encoding":{
     "x":{"datum":0.7,"type":"quantitative","scale":{"domain":[0,1],"reverse":true,"nice":false,"zero":false},
      "axis":{"orient":"bottom","domain":false,"values":[0,0.1,0.2,0.3,0.4,0.5,0.6,0.7,0.8,0.9,1],"labelExpr":"round(datum.value*10)%2==1?'':format(datum.value,'.1f')","labelPadding":17,"tickSize":{"condition":{"test":"round(datum.value*10)%2==1","value":-6},"value":-10},"title":"R","titleFont":"Liberation Serif","titleFontSize":48,"titlePadding":8}},
     "x2":{"datum":0},
     "y":{"datum":0,"type":"quantitative","scale":{"domain":[0,0.18],"nice":false,"zero":false},
      "axis":{"orient":"left","values":[0,0.045,0.09,0.135],"labelExpr":"datum.value==0?'0':datum.value==0.09?'0.09':''","labelAngle":-90,"labelAlign":"center","labelBaseline":"alphabetic","labelPadding":42,"labelOffset":{"condition":{"test":"datum.value==0","value":-4},"value":-10},"tickSize":{"condition":{"test":"datum.value==0.045||datum.value==0.135","value":-6},"value":-10},"title":"Δ","titleFont":"Liberation Serif","titleFontSize":55,"titleBaseline":"alphabetic","titlePadding":27}},
     "y2":{"datum":0.1791}}},
   {"mark":{"type":"rule","color":"#8dc76b","strokeWidth":1.2,"strokeDash":[1,2]},
    "encoding":{"x":{"datum":0.7,"type":"quantitative","scale":{"domain":[0,1],"reverse":true,"nice":false,"zero":false},"axis":null}}},
   {"mark":{"type":"rule","color":"black","strokeWidth":3,"strokeCap":"square"},
    "encoding":{"y":{"datum":0,"type":"quantitative","scale":{"domain":[0,0.18],"nice":false,"zero":false},"axis":null}}},
   {"data":{"name":"b"},
    "mark":{"type":"line","strokeWidth":2.5,"interpolate":"monotone"},
    "encoding":{
     "x":{"field":"R","type":"quantitative","scale":{"domain":[0,1],"reverse":true,"nice":false,"zero":false},
      "axis":{"orient":"top","domain":false,"values":[0,0.1,0.2,0.3,0.4,0.5,0.6,0.7,0.8,0.9,1],"labels":false,"title":null,"tickSize":{"condition":{"test":"round(datum.value*10)%2==1","value":-6},"value":-10}}},
     "y":{"field":"value","type":"quantitative","scale":{"domain":[0,0.18],"nice":false,"zero":false},
      "axis":{"orient":"right","values":[0,0.045,0.09,0.135,0.18],"labels":false,"title":null,"tickSize":{"condition":{"test":"datum.value==0.045||datum.value==0.135","value":-6},"value":-10}}},
     "color":{"field":"series","type":"nominal","scale":{"domain":["Δ₁","Δ₂"],"range":["#3b55a5","#ec1c24"]},"legend":null}}},
   {"mark":{"type":"text","text":"TGSC","font":"Liberation Sans","fontSize":41,"align":"center","baseline":"alphabetic","color":"black"},
    "encoding":{"x":{"datum":0.863,"type":"quantitative","scale":{"domain":[0,1],"reverse":true,"nice":false,"zero":false},"axis":null},"y":{"datum":0.0818,"type":"quantitative","scale":{"domain":[0,0.18],"nice":false,"zero":false},"axis":null}}},
   {"mark":{"type":"text","text":"OSSC","font":"Liberation Sans","fontSize":41,"align":"center","baseline":"alphabetic","color":"black"},
    "encoding":{"x":{"datum":0.371,"type":"quantitative","scale":{"domain":[0,1],"reverse":true,"nice":false,"zero":false},"axis":null},"y":{"datum":0.0821,"type":"quantitative","scale":{"domain":[0,0.18],"nice":false,"zero":false},"axis":null}}},
   {"mark":{"type":"text","text":"b","font":"Liberation Sans","fontSize":56,"align":"center","baseline":"alphabetic","color":"black"},
    "encoding":{"x":{"datum":0.101,"type":"quantitative","scale":{"domain":[0,1],"reverse":true,"nice":false,"zero":false},"axis":null},"y":{"datum":0.036,"type":"quantitative","scale":{"domain":[0,0.18],"nice":false,"zero":false},"axis":null}}},
   {"mark":{"type":"text","text":"m","font":"Liberation Serif","fontSize":48,"angle":270,"align":"center","baseline":"alphabetic","color":"black"},
    "encoding":{"x":{"datum":1.13,"type":"quantitative","scale":{"domain":[0,1],"reverse":true,"nice":false,"zero":false},"axis":null},"y":{"datum":0.1085,"type":"quantitative","scale":{"domain":[0,0.18],"nice":false,"zero":false},"axis":null}}}
  ]
 }
]
}
